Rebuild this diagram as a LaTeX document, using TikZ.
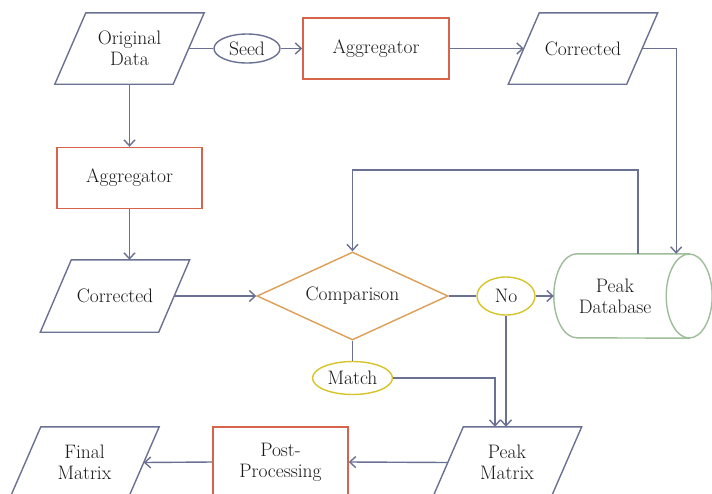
\documentclass[tikz,border=0pt]{standalone}
\usetikzlibrary{shapes.geometric,arrows.meta}
\definecolor{lineC}{HTML}{6B7192}
\definecolor{procC}{HTML}{D5644A}
\definecolor{decC}{HTML}{DC9F55}
\definecolor{ansC}{HTML}{D6C42A}
\definecolor{dbC}{HTML}{9DBE99}
\tikzset{
  txt/.style={font=\fontsize{19.5}{21}\selectfont, align=center, text=black!90},
  iobox/.style={txt, rectangle, minimum width=118pt, minimum height=71pt, inner sep=0pt},
  ioline/.style={draw=lineC, line width=1.4pt, line join=miter},
  procbox/.style={txt, rectangle, draw=procC, line width=1.4pt, fill=white},
  decbox/.style={txt, diamond, aspect=2.17, draw=decC, line width=1.4pt, minimum width=191pt, minimum height=88pt, inner sep=0pt},
  ansbox/.style={txt, ellipse, draw=ansC, line width=1.4pt, inner sep=0pt},
  seedbox/.style={txt, ellipse, draw=lineC, line width=1.4pt, inner sep=0pt},
  dbline/.style={draw=dbC, line width=1.4pt, fill=white},
  conn/.style={draw=lineC, line width=1.4pt},
  arr/.style={conn, -{Straight Barb[length=6pt,width=11pt]}}
}
\newcommand\paral[1]{\draw[ioline] ([xshift=15.5pt]#1.north west) -- ([xshift=15.5pt]#1.north east) -- ([xshift=-15.5pt]#1.south east) -- ([xshift=-15.5pt]#1.south west) -- cycle;}
\begin{document}
\begin{tikzpicture}[x=1pt,y=-1pt]
\useasboundingbox[fill=white] (0,0) rectangle (712,493);
% nodes
\node[iobox] (od) at (129.5,48.5) {Original\\Data};
\paral{od}
\node[seedbox, minimum width=66pt, minimum height=29pt] (seed) at (247,48.5) {Seed};
\node[procbox, minimum width=146pt, minimum height=61pt] (agg1) at (376,48.5) {Aggregator};
\node[iobox] (cor1) at (583,48.5) {Corrected};
\paral{cor1}
\node[procbox, minimum width=145pt, minimum height=61pt] (agg2) at (129.5,178) {Aggregator};
\node[iobox, minimum height=72pt] (cor2) at (115,296) {Corrected};
\paral{cor2}
\node[decbox] (cmp) at (352.5,296) {Comparison};
\node[ansbox, minimum width=58pt, minimum height=38pt] (no) at (506,296) {No};
\node[ansbox, minimum width=80pt, minimum height=33pt] (match) at (352.5,378) {Match};
% database cylinder
\node[txt, rectangle, minimum width=122pt, minimum height=84pt, inner sep=0pt] (db) at (615,296) {};
\draw[dbline] ([xshift=13pt]db.north east) -- ([xshift=23pt]db.north west) arc[start angle=90,end angle=270,x radius=23pt,y radius=42pt] -- ([xshift=13pt]db.south east) -- cycle;
\draw[dbline] ([xshift=13pt]db.east) ellipse[x radius=23pt, y radius=42pt];
\node[txt] at (db) {Peak\\Database};
\node[iobox] (pm) at (507,462.5) {Peak\\Matrix};
\paral{pm}
\node[procbox, minimum width=135pt, minimum height=70pt] (pp) at (280.5,462) {Post-\\Processing};
\node[iobox] (fm) at (84.5,462.5) {Final\\Matrix};
\paral{fm}
% connectors
\draw[conn] (od.east) -- (seed.west);
\draw[arr] (seed.east) -- (agg1.west);
\draw[arr] (agg1.east) -- (cor1.west);
\draw[arr] (cor1.east) -| (db.north east);
\draw[arr] ([xshift=23pt]db.north) -- ++(0,-84) -| (cmp.north);
\draw[arr] (od.south) -- (agg2.north);
\draw[arr] (agg2.south) -- (agg2.south |- cor2.north);
\draw[arr] (cor2.east) -- (cmp.west);
\draw[conn] (cmp.east) -- (no.west);
\draw[arr] (no.east) -- (db.west);
\draw[arr] (no.south) -- (no.south |- pm.north);
\draw[conn] (cmp.south) -- (match.north);
\draw[arr] (match.east) -| ([xshift=-12pt]pm.north);
\draw[arr] (pm.west) -- (pp.east);
\draw[arr] (pp.west) -- (fm.east);
\end{tikzpicture}
\end{document}
